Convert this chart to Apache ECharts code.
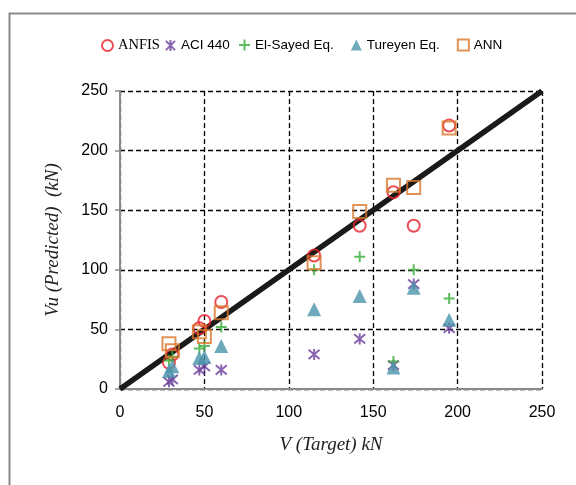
<!DOCTYPE html>
<html>
<head>
<meta charset="utf-8">
<script src="https://cdn.jsdelivr.net/npm/echarts@6/dist/echarts.min.js"></script>
<style>html,body{margin:0;padding:0;background:#fff}#c{width:576px;height:485px}</style>
</head>
<body>
<div id="c"></div>
<script>
var anfis = [[29,22],[31,29],[47,51],[50,57],[60,73],[115,112],[142,137],[162,165],[174,137],[195,221]];
var aci440 = [[29,6],[31,8],[47,16],[50,19],[60,16],[115,29],[142,42],[162,20],[174,88],[195,51]];
var elSayed = [[29,24],[31,27],[47,34],[50,36],[60,52],[115,100],[142,111],[162,23],[174,100],[195,76]];
var tureyen = [[29,15],[31,19],[47,26],[50,27],[60,36],[115,67],[142,78],[162,18],[174,85],[195,58]];
var ann = [[29,38],[31,32],[47,48],[50,44],[60,64],[115,106],[142,149],[162,171],[174,169],[195,219]];
var idealLine = [[0,0],[250,250]];
var axisMin = 0, axisMax = 250, axisStep = 50;

var chart = echarts.init(document.getElementById('c'), null, {renderer:'canvas'});
var sans = 'Liberation Sans';
var serif = 'Liberation Serif';
var starPath = 'path://M0,0 L10,10 M10,0 L0,10 M5,-1 L5,11';
var plusPath = 'path://M5,0 L5,10 M0,5 L10,5';

chart.setOption({
  animation:false,
  graphic:[{type:'rect', left:7, top:11, shape:{width:620, height:520}, style:{fill:'none', stroke:'#8a8a8a', lineWidth:2}, z:-10}],
  legend:[{
    top:33, left:96, itemGap:5, itemWidth:11, itemHeight:11,
    textStyle:{fontFamily:sans, fontSize:13.5, color:'#000'},
    data:[{name:'ANFIS', textStyle:{fontFamily:serif, fontSize:14.5}},{name:'ACI 440'}]
  },{
    top:33, left:233, itemGap:17, itemWidth:11, itemHeight:11,
    textStyle:{fontFamily:sans, fontSize:13.5, color:'#000'},
    data:['El-Sayed Eq.','Tureyen Eq.','ANN']
  }],
  grid:{left:120, right:34, top:91, bottom:96, containLabel:false},
  xAxis:{
    type:'value', min:axisMin, max:axisMax, interval:axisStep,
    name:'V (Target) kN', nameLocation:'middle', nameGap:46,
    nameTextStyle:{fontFamily:serif, fontStyle:'italic', fontSize:19, color:'#222'},
    axisLine:{show:true, onZero:false, lineStyle:{color:'#8a8a8a', width:2}},
    axisTick:{show:false},
    axisLabel:{fontFamily:sans, fontSize:16, color:'#000', margin:16},
    splitLine:{show:true, lineStyle:{color:'#000', type:[5,3], width:1.3}}
  },
  yAxis:{
    type:'value', min:axisMin, max:axisMax, interval:axisStep,
    name:'Vu (Predicted)  (kN)', nameLocation:'middle', nameGap:58,
    nameTextStyle:{fontFamily:serif, fontStyle:'italic', fontSize:19, color:'#222'},
    axisLine:{show:true, onZero:false, lineStyle:{color:'#8a8a8a', width:2}},
    axisTick:{show:true, inside:false, length:5, lineStyle:{color:'#8a8a8a', width:1.5}},
    axisLabel:{fontFamily:sans, fontSize:16, color:'#000', margin:12},
    splitLine:{show:true, lineStyle:{color:'#000', type:[5,3], width:1.3}}
  },
  series:[
    {name:'line', type:'line', data:idealLine, symbol:'none', z:1,
     lineStyle:{color:'#1a1a1a', width:5.5}},
    {name:'ANFIS', type:'scatter', data:anfis, symbol:'circle', symbolSize:12, z:3,
     itemStyle:{color:'rgba(0,0,0,0)', borderColor:'#e8202a', borderWidth:2}},
    {name:'ACI 440', type:'scatter', data:aci440, symbol:starPath, symbolSize:11, z:3,
     itemStyle:{color:'#6a3d9a', borderColor:'#6a3d9a', borderWidth:2}},
    {name:'El-Sayed Eq.', type:'scatter', data:elSayed, symbol:plusPath, symbolSize:11, z:3,
     itemStyle:{color:'#36ac36', borderColor:'#36ac36', borderWidth:2}},
    {name:'Tureyen Eq.', type:'scatter', data:tureyen, symbol:'triangle', symbolSize:14, z:3,
     itemStyle:{color:'#4a93ab'}},
    {name:'ANN', type:'scatter', data:ann, symbol:'rect', symbolSize:13, z:3,
     itemStyle:{color:'rgba(0,0,0,0)', borderColor:'#d9782d', borderWidth:2}}
  ]
});
</script>
</body>
</html>
